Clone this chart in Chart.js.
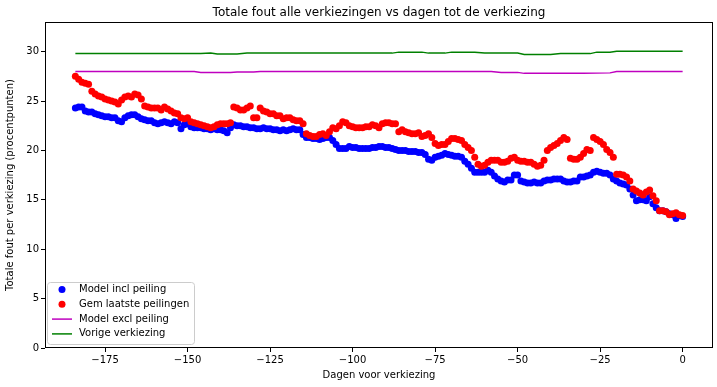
<!DOCTYPE html>
<html>
<head>
<meta charset="utf-8">
<script src="https://cdn.jsdelivr.net/npm/chart.js@4"></script>
<style>
  html, body { margin: 0; padding: 0; background: #fff; }
  #wrap { width: 717px; height: 387px; }
</style>
</head>
<body>
<div id="wrap"><canvas id="chart0" width="717" height="387"></canvas></div>
<script>
// dagen voor verkiezing: -184 .. 0
const days = Array.from({length: 185}, (_, i) => i - 184);

const model_incl = [
    24.3, 24.4, 24.4, 24.0, 23.9, 23.9, 23.7, 23.6, 23.5, 23.4,
    23.4, 23.3, 23.3, 23.0, 22.9, 23.3, 23.5, 23.6, 23.6, 23.4,
    23.2, 23.1, 23.0, 23.0, 22.8, 22.7, 22.8, 22.9, 22.8, 22.7,
    22.9, 22.8, 22.2, 22.6, 22.7, 22.4, 22.3, 22.3, 22.3, 22.2,
    22.2, 22.1, 22.2, 22.1, 22.1, 22.0, 21.8, 22.3, 22.6, 22.5,
    22.5, 22.4, 22.4, 22.3, 22.3, 22.2, 22.2, 22.3, 22.2, 22.2,
    22.1, 22.1, 22.0, 22.1, 22.0, 22.1, 22.2, 22.1, 22.1, 21.6,
    21.3, 21.3, 21.2, 21.2, 21.1, 21.2, 21.3, 21.3, 21.0, 20.6,
    20.2, 20.2, 20.2, 20.4, 20.3, 20.3, 20.2, 20.2, 20.2, 20.2,
    20.3, 20.3, 20.4, 20.4, 20.3, 20.3, 20.2, 20.1, 20.0, 20.0,
    20.0, 19.9, 19.9, 19.9, 19.8, 19.8, 19.6, 19.1, 19.0, 19.3,
    19.4, 19.5, 19.7, 19.6, 19.5, 19.4, 19.4, 19.3, 18.9, 18.6,
    18.2, 17.8, 17.8, 17.8, 17.8, 18.0, 17.8, 17.4, 17.1, 16.9,
    16.8, 17.0, 17.0, 17.5, 17.5, 16.9, 16.8, 16.7, 16.7, 16.8,
    16.7, 16.7, 16.9, 17.0, 17.0, 17.1, 17.1, 17.1, 16.9, 16.8,
    16.8, 16.9, 16.9, 17.3, 17.3, 17.4, 17.5, 17.8, 17.9, 17.8,
    17.7, 17.7, 17.5, 17.1, 16.9, 16.7, 16.6, 16.5, 16.1, 15.5,
    14.9, 15.0, 15.0, 14.9, 15.3, 14.6, 14.2, 13.9, 13.9, 13.8,
    13.6, 13.5, 13.1, 13.4, 13.3
];

const gem_peilingen = [
    27.5, 27.2, 26.9, 26.8, 26.7, 26.0, 25.7, 25.5, 25.4, 25.2,
    25.1, 25.0, 24.9, 24.7, 25.1, 25.4, 25.5, 25.4, 25.7, 25.6,
    25.2, 24.5, 24.4, 24.3, 24.3, 24.3, 24.1, 24.4, 24.2, 24.0,
    23.8, 23.7, 23.3, 23.2, 23.3, 22.9, 22.8, 22.7, 22.6, 22.5,
    22.4, 22.3, 22.4, 22.6, 22.7, 22.7, 22.7, 22.8, 24.4, 24.3,
    24.1, 24.1, 24.3, 24.5, 23.3, 23.3, 24.3, 24.0, 23.9, 23.7,
    23.7, 23.5, 23.5, 23.2, 23.3, 23.3, 23.1, 23.0, 23.0, 22.7,
    21.7, 21.5, 21.4, 21.4, 21.6, 21.7, 21.5, 21.9, 22.3, 22.2,
    22.5, 22.9, 22.8, 22.5, 22.4, 22.3, 22.3, 22.3, 22.4, 22.4,
    22.6, 22.5, 22.3, 22.7, 22.8, 22.8, 22.7, 22.7, 21.9, 22.1,
    21.9, 21.8, 21.7, 21.7, 21.8, 21.4, 21.5, 21.7, 21.3, 20.7,
    20.5, 20.6, 20.6, 20.9, 21.2, 21.2, 21.1, 21.0, 20.6, 20.3,
    20.0, 19.3, 18.6, 18.4, 18.5, 18.8, 19.0, 19.0, 19.0, 18.8,
    18.8, 18.9, 19.2, 19.3, 19.0, 18.9, 18.9, 18.8, 18.8, 18.6,
    18.4, 18.5, 19.0, 20.0, 20.3, 20.5, 20.7, 21.0, 21.3, 21.1,
    19.2, 19.1, 19.1, 19.3, 19.7, 20.1, 20.0, 21.3, 21.1, 20.9,
    20.6, 20.1, 19.8, 19.3, 17.6, 17.6, 17.5, 17.3, 16.9, 16.1,
    15.9, 15.7, 15.5, 15.8, 16.0, 15.4, 14.9, 13.9, 13.9, 13.8,
    13.5, 13.6, 13.7, 13.5, 13.4
];

// lijnen: alleen de knikpunten
const excl_days = [-184, -148, -146, -137, -135, -130, -128, -58, -55, -50, -48, -30, -22, -20, 0];
const model_excl = [28.0, 28.0, 27.9, 27.9, 27.95, 27.95, 28.0, 28.0, 27.9, 27.9, 27.8, 27.8, 27.85, 28.0, 28.0];

const vorige_days = [-184, -146, -143, -141, -135, -132, -88, -86, -79, -77, -72, -70, -63, -60, -50, -48, -40, -37, -28, -26, -22, -20, 0];
const vorige = [29.8, 29.8, 29.85, 29.75, 29.75, 29.85, 29.85, 29.95, 29.95, 29.85, 29.85, 29.95, 29.95, 29.85, 29.85, 29.7, 29.7, 29.8, 29.8, 29.95, 29.95, 30.05, 30.05];

const x_ticks = [-175, -150, -125, -100, -75, -50, -25, 0];
const y_ticks = [0, 5, 10, 15, 20, 25, 30];

const TITLE = 'Totale fout alle verkiezingen vs dagen tot de verkiezing';
const FONT = 'DejaVu Sans';
const xy = (xs, ys) => xs.map((x, i) => ({x: x, y: ys[i]}));
const minus = v => String(v).replace('-', '\u2212');

// titel boven het plotgebied, kader, legenda linksonder
const frame_plugin = {
    id: 'frame',
    afterDraw(chart) {
        const {ctx, chartArea: a} = chart;
        ctx.save();
        ctx.fillStyle = '#000';
        ctx.font = '12px "' + FONT + '"';
        ctx.textAlign = 'center';
        ctx.textBaseline = 'middle';
        ctx.fillText(TITLE, (a.left + a.right) / 2, 13);

        ctx.strokeStyle = '#000';
        ctx.lineWidth = 1;
        ctx.strokeRect(a.left + 0.5, a.top + 0.5, a.right - a.left - 1, a.bottom - a.top - 1);

        // legenda
        const bx = a.left + 2, by = 282, bw = 147, bh = 62;
        ctx.fillStyle = 'rgba(255,255,255,0.8)';
        ctx.strokeStyle = '#cccccc';
        ctx.beginPath();
        ctx.roundRect(bx + 0.5, by + 0.5, bw, bh, 3);
        ctx.fill();
        ctx.stroke();
        ctx.font = '10px "' + FONT + '"';
        ctx.textAlign = 'left';
        chart.data.datasets.forEach((ds, i) => {
            const yy = by + 7.5 + i * 14.8;
            if (ds.showLine) {
                ctx.strokeStyle = ds.borderColor;
                ctx.lineWidth = 1.5;
                ctx.beginPath();
                ctx.moveTo(bx + 5, yy);
                ctx.lineTo(bx + 25, yy);
                ctx.stroke();
            } else {
                ctx.fillStyle = ds.backgroundColor;
                ctx.beginPath();
                ctx.arc(bx + 15, yy, 3.5, 0, Math.PI * 2);
                ctx.fill();
            }
            ctx.fillStyle = '#000';
            ctx.fillText(ds.label, bx + 32, yy);
        });
        ctx.restore();
    }
};

const ctx0 = document.getElementById('chart0').getContext('2d');
const chart0 = new Chart(ctx0, {
    type: 'scatter',
    data: {
        datasets: [
            {
                label: 'Model incl peiling',
                data: xy(days, model_incl),
                backgroundColor: '#0000ff',
                borderColor: '#0000ff',
                pointRadius: 3.5,
                pointBorderWidth: 0,
                order: 4,
            },
            {
                label: 'Gem laatste peilingen',
                data: xy(days, gem_peilingen),
                backgroundColor: '#ff0000',
                borderColor: '#ff0000',
                pointRadius: 3.5,
                pointBorderWidth: 0,
                order: 3,
            },
            {
                label: 'Model excl peiling',
                data: xy(excl_days, model_excl),
                showLine: true,
                borderColor: '#bf00bf',
                backgroundColor: '#bf00bf',
                borderWidth: 1.5,
                pointRadius: 0,
                order: 2,
            },
            {
                label: 'Vorige verkiezing',
                data: xy(vorige_days, vorige),
                showLine: true,
                borderColor: '#008000',
                backgroundColor: '#008000',
                borderWidth: 1.5,
                pointRadius: 0,
                order: 1,
            },
        ]
    },
    options: {
        responsive: false,
        animation: false,
        layout: {padding: {left: 0, right: 3, top: 22, bottom: 0}},
        plugins: {
            legend: {display: false},
            tooltip: {enabled: false},
            title: {display: false},
        },
        scales: {
            x: {
                type: 'linear',
                min: -193.2,
                max: 9.2,
                afterBuildTicks: s => { s.ticks = x_ticks.map(v => ({value: v})); },
                afterFit: s => { s.height = 39; },
                ticks: {
                    color: '#000',
                    font: {family: FONT, size: 10},
                    padding: 2,
                    maxRotation: 0,
                    callback: v => minus(v),
                },
                grid: {drawOnChartArea: false, drawTicks: true, tickLength: 4, color: '#000'},
                border: {display: false},
                title: {
                    display: true,
                    text: 'Dagen voor verkiezing',
                    color: '#000',
                    font: {family: FONT, size: 10},
                    padding: {top: 2, bottom: 6},
                },
            },
            y: {
                type: 'linear',
                min: 0,
                max: 33,
                afterBuildTicks: s => { s.ticks = y_ticks.map(v => ({value: v})); },
                afterFit: s => { s.width = 45; },
                ticks: {
                    color: '#000',
                    font: {family: FONT, size: 10},
                    padding: 2,
                },
                grid: {drawOnChartArea: false, drawTicks: true, tickLength: 4, color: '#000'},
                border: {display: false},
                title: {
                    display: true,
                    text: 'Totale fout per verkiezing (procentpunten)',
                    color: '#000',
                    font: {family: FONT, size: 10},
                    padding: {top: 4, bottom: 0},
                },
            },
        },
    },
    plugins: [frame_plugin],
});
</script>
</body>
</html>
